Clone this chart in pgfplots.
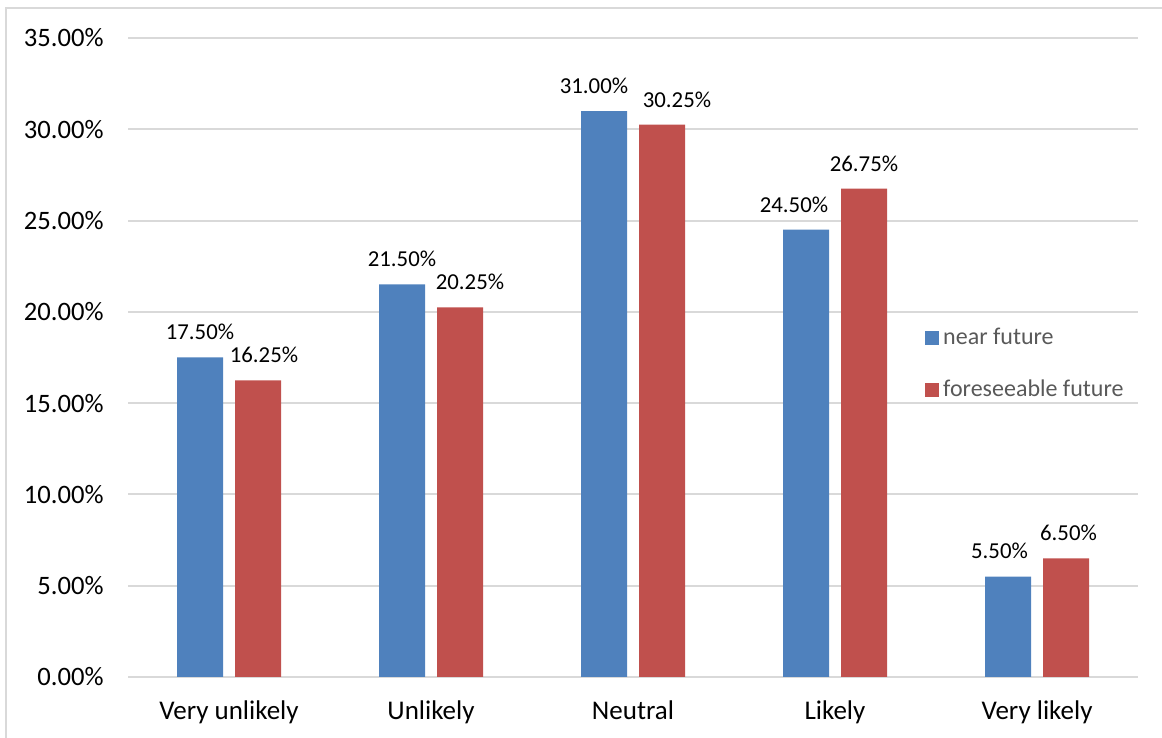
\documentclass[border=0pt]{standalone}
\usepackage{fontspec}
\setmainfont{Carlito}
\usepackage{pgfplots}
\usepackage{pgfplotstable}
\pgfplotsset{compat=1.18}
\definecolor{cblue}{HTML}{4F81BD}
\definecolor{cred}{HTML}{C0504D}
\definecolor{gridc}{HTML}{D9D9D9}
\definecolor{legc}{HTML}{595959}
\pgfplotstableread{
x near dxa
0 17.50 0
1 21.50 0
2 31.00 -5
3 24.50 -6
4 5.50 -4.25
}\neardata
\pgfplotstableread{
x fore dxb
0 16.25 3
1 20.25 5
2 30.25 7.5
3 26.75 0
4 6.50 1.25
}\foredata
\begin{document}
\begin{tikzpicture}
\useasboundingbox (0,0) rectangle (581pt,369pt);
\draw[gridc, line width=1pt] (3pt,0) -- (3pt,365pt) -- (581pt,365pt);
\begin{axis}[
  at={(64pt,30.5pt)}, anchor=south west,
  width=505pt, height=319.5pt, scale only axis,
  ybar=6pt, bar width=23pt,
  ymin=0, ymax=35, xmin=-0.5, xmax=4.5,
  ytick={0,5,...,35},
  xtick={0,...,4},
  xticklabels={Very unlikely, Unlikely, Neutral, Likely, Very likely},
  /pgf/number format/assume math mode=true,
  yticklabel={\pgfmathprintnumber[fixed,fixed zerofill,precision=2]{\tick}\%},
  axis line style={draw=none},
  major tick length=0pt,
  ymajorgrids, grid style={gridc, line width=1pt},
  yticklabel style={anchor=east, inner sep=0pt, xshift=-12pt, font=\fontsize{13.3}{16}\selectfont, text=black},
  xticklabel style={anchor=north, inner sep=0pt, text height=9pt, text depth=3pt, yshift=-12pt, font=\fontsize{13.5}{16}\selectfont, text=black},
  nodes near coords={\pgfmathprintnumber[fixed,fixed zerofill,precision=2]{\pgfplotspointmeta}\%},
  nodes near coords style={anchor=south, inner sep=0pt, yshift=8.5pt, xshift=\dx pt, font=\fontsize{11.4}{14}\selectfont, text=black},
  legend image code/.code={\fill[#1] (0pt,-3.5pt) rectangle (7pt,3.5pt);},
  legend style={at={(0.783,0.490)}, anchor=west, draw=none, fill=none, font=\fontsize{12}{14.5}\selectfont, text=legc, row sep=12pt},
  legend cell align=left,
  clip=false,
]
\addplot[fill=cblue, draw=none, visualization depends on={\thisrow{dxa} \as \dx}] table[x=x, y=near] {\neardata};
\addplot[fill=cred, draw=none, visualization depends on={\thisrow{dxb} \as \dx}] table[x=x, y=fore] {\foredata};
\legend{near future, foreseeable future}
\end{axis}
\end{tikzpicture}
\end{document}
